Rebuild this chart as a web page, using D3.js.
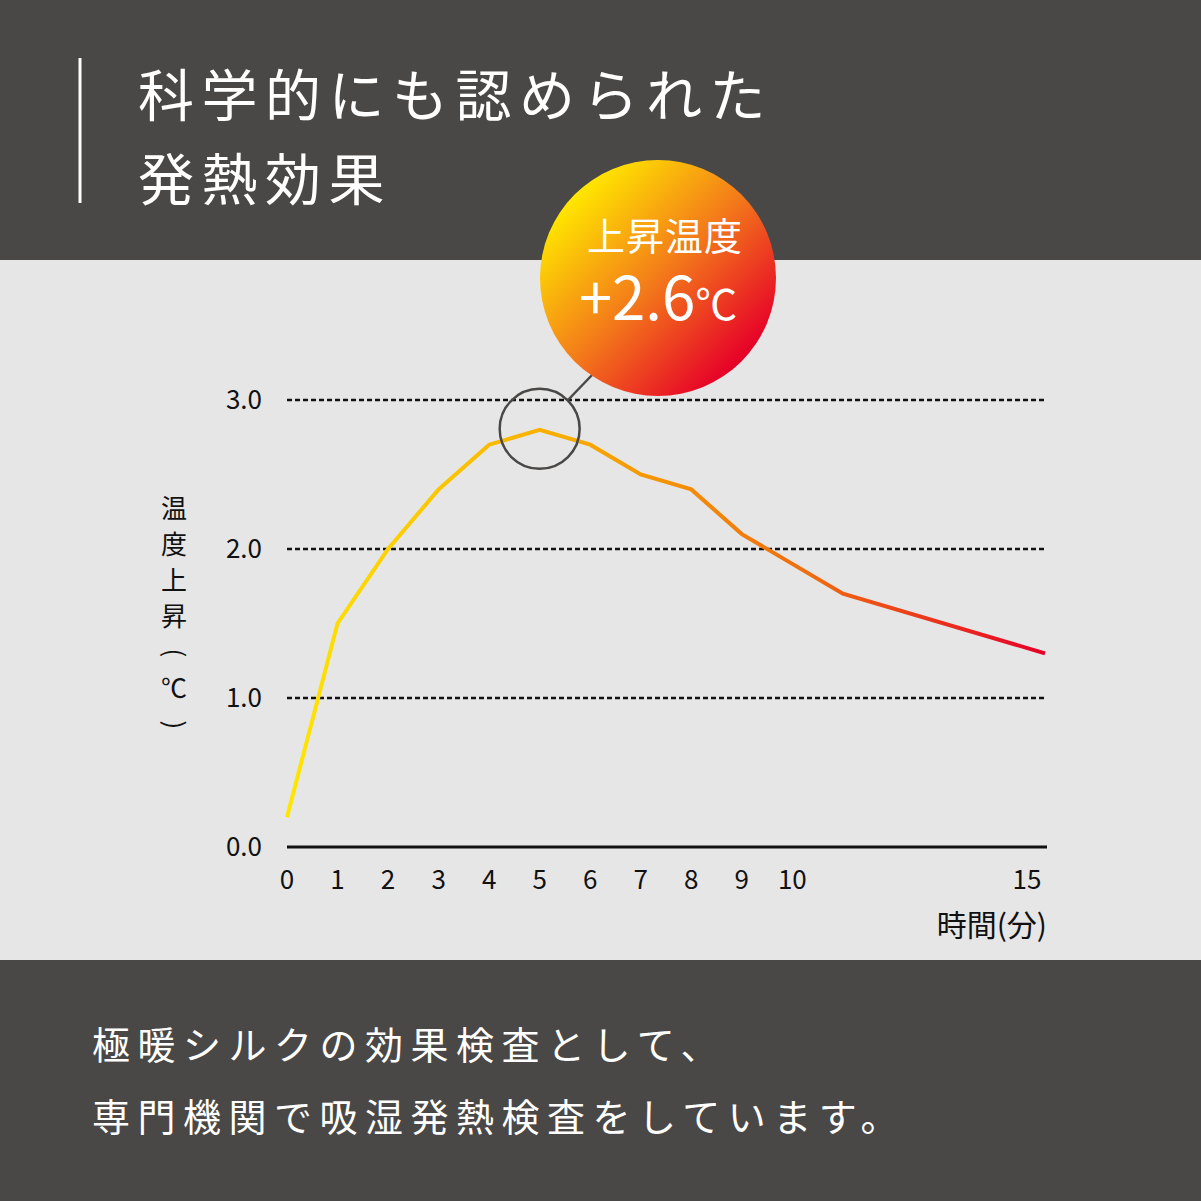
<!DOCTYPE html>
<html><head><meta charset="utf-8">
<script src="https://cdn.jsdelivr.net/npm/d3@7"></script>
<style>body{margin:0;background:#4a4846}svg{display:block}text{font-family:"Noto Sans CJK JP","Noto Sans",sans-serif}</style>
</head><body>
<script>
const minutes=[0,1,2,3,4,5,6,7,8,9,10,11,15];
const tempRise=[0.2,1.5,2.0,2.4,2.7,2.8,2.7,2.5,2.4,2.1,1.9,1.7,1.3];
const xTicks=[0,1,2,3,4,5,6,7,8,9,10,15];
const yTicks=[0,1,2,3];
const titleLines=["科学的にも認められた","発熱効果"];
const bottomLines=["極暖シルクの効果検査として、","専門機関で吸湿発熱検査をしています。"];

const W=1201,H=1201;
const svg=d3.select("body").append("svg").attr("width",W).attr("height",H);
const defs=svg.append("defs");
const lg=defs.append("linearGradient").attr("id","lg").attr("gradientUnits","userSpaceOnUse").attr("x1",287).attr("x2",1045).attr("y1",0).attr("y2",0);
lg.append("stop").attr("offset","0").attr("stop-color","#ffe600");
lg.append("stop").attr("offset","0.4").attr("stop-color","#f7a600");
lg.append("stop").attr("offset","0.7").attr("stop-color","#ef6a10");
lg.append("stop").attr("offset","1").attr("stop-color","#e60028");
const cg=defs.append("linearGradient").attr("id","cg").attr("x1",0.15).attr("y1",0.15).attr("x2",0.85).attr("y2",0.85);
cg.append("stop").attr("offset","0").attr("stop-color","#ffe600");
cg.append("stop").attr("offset","0.5").attr("stop-color","#f37a1a");
cg.append("stop").attr("offset","1").attr("stop-color","#e60028");

svg.append("rect").attr("width",W).attr("height",H).attr("fill","#4a4846");
svg.append("rect").attr("y",260).attr("width",W).attr("height",700).attr("fill","#e6e6e6");
svg.append("line").attr("x1",80).attr("x2",80).attr("y1",58).attr("y2",203).attr("stroke","#fff").attr("stroke-width",3);
svg.selectAll(".tt").data(titleLines).join("text").attr("x",138).attr("y",(d,i)=>116+i*84)
  .attr("fill","#fff").attr("font-size",56).attr("letter-spacing",7.5).text(d=>d);
svg.selectAll(".bt").data(bottomLines).join("text").attr("x",92).attr("y",(d,i)=>1059+i*72)
  .attr("fill","#fff").attr("font-size",38).attr("letter-spacing",7.5).text(d=>d);

const x=d3.scaleLinear().domain([0,15]).range([287,1045]);
const y=d3.scaleLinear().domain([0,3]).range([847,400]);

svg.append("g").selectAll("line").data(yTicks.filter(d=>d>0)).join("line")
  .attr("x1",287).attr("x2",1047).attr("y1",d=>y(d)).attr("y2",d=>y(d))
  .attr("stroke","#111").attr("stroke-width",2.5).attr("stroke-dasharray","5,3");
svg.append("line").attr("x1",287).attr("x2",1047).attr("y1",y(0)).attr("y2",y(0)).attr("stroke","#111").attr("stroke-width",3);
svg.append("g").selectAll("text").data(yTicks).join("text").attr("x",262).attr("y",d=>y(d)+9)
  .attr("text-anchor","end").attr("font-size",26).attr("fill","#111").text(d=>d.toFixed(1));
svg.append("g").selectAll("text").data(xTicks).join("text")
  .attr("x",d=>d===15?x(d)-18:x(d)).attr("y",889).attr("text-anchor","middle")
  .attr("font-size",26).attr("fill","#111").text(d=>d);
svg.append("text").attr("x",1047).attr("y",936).attr("text-anchor","end").attr("font-size",30).attr("fill","#111").text("時間(分)");
svg.append("g").selectAll("text").data(["温","度","上","昇","(","℃",")"]).join("text")
  .attr("x",174).attr("y",(d,i)=>518+i*36).attr("text-anchor","middle").attr("font-size",26).attr("fill","#111")
  .attr("transform",(d,i)=>(d==="("||d===")")?`rotate(90,174,${509+i*36})`:null).text(d=>d);

svg.append("path").datum(minutes.map((m,i)=>[m,tempRise[i]]))
  .attr("d",d3.line().x(d=>x(d[0])).y(d=>y(d[1]))).attr("fill","none").attr("stroke","url(#lg)").attr("stroke-width",4);

svg.append("circle").attr("cx",x(5)).attr("cy",y(2.8)-1).attr("r",40).attr("fill","none").attr("stroke","#4a4846").attr("stroke-width",2.5);
svg.append("line").attr("x1",568).attr("y1",400).attr("x2",593).attr("y2",374).attr("stroke","#4a4846").attr("stroke-width",2.5);
svg.append("circle").attr("cx",658).attr("cy",278).attr("r",118).attr("fill","url(#cg)");
svg.append("text").attr("x",665).attr("y",250).attr("text-anchor","middle").attr("font-size",38).attr("letter-spacing",1).attr("fill","#fff").text("上昇温度");
const t=svg.append("text").attr("x",658).attr("y",320).attr("text-anchor","middle").attr("fill","#fff").attr("font-family","'Noto Sans',sans-serif");
t.append("tspan").attr("font-size",60).text("+2.6");
t.append("tspan").attr("font-size",42).text("℃");
</script>
</body></html>
